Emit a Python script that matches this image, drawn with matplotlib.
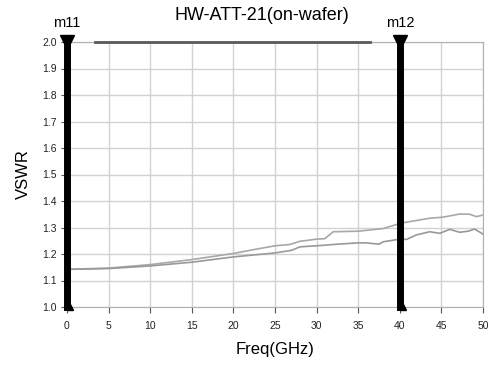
import matplotlib
matplotlib.use("Agg")
import matplotlib.pyplot as plt
import numpy as np

plt.rcParams['font.family'] = ['Liberation Sans', 'DejaVu Sans']

# trace 1 (upper VSWR curve)
freq_a = [0, 5, 10, 15, 20, 22, 25, 26.8, 28, 30, 31, 32, 35, 38, 40, 40.4,
          43.6, 45.2, 47.2, 48.4, 49.2, 50]
vswr_a = [1.142, 1.147, 1.160, 1.179, 1.202, 1.214, 1.231, 1.236, 1.248, 1.256,
          1.258, 1.284, 1.286, 1.296, 1.315, 1.318, 1.335, 1.339, 1.351, 1.350,
          1.341, 1.347]

# trace 2 (lower VSWR curve)
freq_b = [0, 5, 10, 15, 20, 25, 27, 28, 30, 32.5, 35, 36, 37.5, 38, 40, 40.8,
          42, 43.6, 44.8, 46, 47.2, 48.2, 49, 50]
vswr_b = [1.142, 1.145, 1.155, 1.169, 1.189, 1.204, 1.214, 1.227, 1.231, 1.237,
          1.242, 1.242, 1.237, 1.246, 1.256, 1.255, 1.272, 1.284, 1.278, 1.293,
          1.282, 1.286, 1.294, 1.275]

# trace clipped at the top of the plot
freq_c = [3.4, 36.4]
vswr_c = [2.0, 2.0]

markers = {'m11': 0, 'm12': 40}

fig = plt.figure(figsize=(4.89, 3.70), dpi=100)
ax = fig.add_axes([67/489, 1 - 307/370, 416/489, 265/370])

ax.plot(freq_a, vswr_a, color='#a8a8a8', lw=1.2)
ax.plot(freq_b, vswr_b, color='#999999', lw=1.2)
ax.plot(freq_c, vswr_c, color='#5a5a5a', lw=2, clip_on=False, zorder=4)

for name, xm in markers.items():
    ax.axvline(xm, color='black', lw=5, zorder=5, clip_on=False)
    ax.plot(xm, 2.0, marker='v', color='black', ms=10, clip_on=False, zorder=6)
    ax.plot(xm + 0.4, 1.0, marker='^', color='black', ms=5, clip_on=False, zorder=6)
    ax.text(xm, 2.045, name, ha='center', va='bottom', fontsize=10.5)

ax.set_xlim(0, 50)
ax.set_ylim(1.0, 2.0)
ax.set_xticks(np.arange(0, 51, 5))
ax.set_yticks(np.round(np.arange(1.0, 2.01, 0.1), 1))
ax.set_yticks(np.arange(1.05, 2.0, 0.1), minor=True)
ax.tick_params(axis='both', labelsize=7.5, color='#555555', length=4, labelcolor='#222222')
ax.tick_params(axis='y', which='minor', length=2, color='#777777')
ax.tick_params(axis='x', pad=6)
ax.grid(True, color='#d2d2d2', lw=1)
ax.set_axisbelow(True)
for s in ax.spines.values():
    s.set_color('#b0b0b0')

ax.set_xlabel('Freq(GHz)', fontsize=12, labelpad=8)
ax.set_ylabel('VSWR', fontsize=12, labelpad=8)
fig.text(262/489, 1 - 15/370, 'HW-ATT-21(on-wafer)', ha='center', va='center', fontsize=13)

fig.savefig('out.png', dpi=100)
